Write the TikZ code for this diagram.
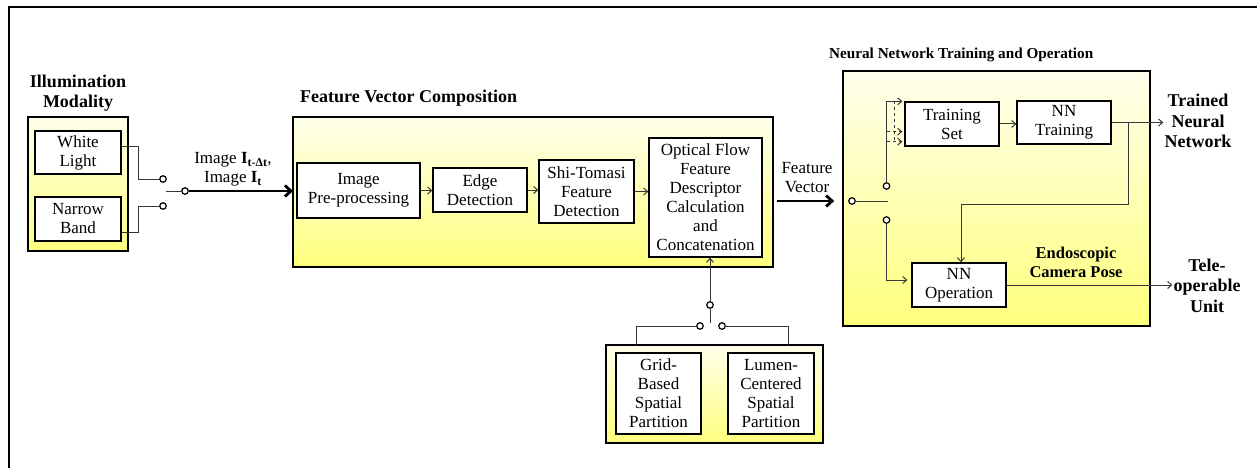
\documentclass[tikz,border=0pt]{standalone}
\usepackage{fontspec}
\setmainfont{Liberation Serif}
\usetikzlibrary{arrows.meta,calc}
\definecolor{ytop}{RGB}{255,255,236}
\definecolor{ybot}{RGB}{255,255,125}
\definecolor{wirec}{RGB}{55,55,55}
\newcommand{\bodyf}{\fontsize{17}{19}\selectfont}
\newcommand{\ttlf}{\bfseries\fontsize{18}{20.5}\selectfont}
\begin{document}
\begin{tikzpicture}[x=1pt,y=-1pt,
  group/.style={draw=black, line width=1.8pt, top color=ytop, bottom color=ybot, inner sep=0pt, outer sep=0pt, anchor=north west},
  blk/.style={draw=black, line width=1.3pt, fill=white, align=center, inner sep=0pt, font=\bodyf},
  contact/.style={circle, draw=black, line width=1.2pt, fill=white, inner sep=0pt, minimum size=6.5pt},
  wire/.style={draw=wirec, line width=1pt},
  arr/.style={wire, -{Straight Barb[length=4pt,width=7pt]}},
  thickarr/.style={line width=2.8pt, -{Straight Barb[length=6pt,width=11pt]}},
  ttl/.style={font=\ttlf, align=center, inner sep=1pt},
  lbl/.style={font=\bodyf, align=center, inner sep=0pt},
]
\useasboundingbox (0,0) rectangle (1257,468);
% frame
\draw[line width=2.5pt] (9,468) -- (9,7) -- (1257,7);

% ---- Illumination modality
\node[group, minimum width=100pt, minimum height=134pt] (illum) at (28,117) {};
\node[ttl] (illumT) at (78,93) {Illumination\\Modality};
\node[blk, minimum width=86pt, minimum height=43pt] (wl) at (78,152.5) {White\\Light};
\node[blk, minimum width=86pt, minimum height=44pt] (nb) at (78,219) {Narrow\\Band};
\node[contact] (c1) at (163,179) {};
\node[contact] (c2) at (163,206) {};
\node[contact] (cin) at (185,191) {};
\draw[wire] ([yshift=6.5pt]wl.east) -- ++(17,0) |- (c1.west);
\draw[wire] ([yshift=-13pt]nb.east) -- ++(17,0) |- (c2.west);
\draw[wire] (cin.west) -- ++(-15,0);
\node[lbl] (imglbl) at (233,169.5) {Image \textbf{I}\textsubscript{\textbf{t-Δt}},\\Image \textbf{I}\textsubscript{\textbf{t}}};

% ---- Feature vector composition
\node[group, minimum width=480pt, minimum height=150pt] (fvc) at (293,117) {};
\node[ttl, anchor=west] (fvcT) at (299,98) {Feature Vector Composition};
\draw[thickarr] (cin.east) -- (cin.east -| fvc.west);
\node[blk, minimum width=123pt, minimum height=55pt] (pre) at (358.5,190.5) {Image\\Pre-processing};
\node[blk, minimum width=94pt, minimum height=44pt] (edge) at (480,190) {Edge\\Detection};
\node[blk, minimum width=95pt, minimum height=63pt] (shi) at (586.5,191.5) {Shi-Tomasi\\Feature\\Detection};
\node[blk, minimum width=113pt, minimum height=119pt] (of) at (705.5,197.5) {Optical Flow\\Feature\\Descriptor\\Calculation\\and\\Concatenation};
\draw[arr] (pre.east) -- (pre.east -| edge.west);
\draw[arr] (edge.east) -- (edge.east -| shi.west);
\draw[arr] (shi.east) -- (shi.east -| of.west);

% ---- Spatial partition
\node[group, minimum width=217pt, minimum height=98pt] (bot) at (606,345) {};
\node[blk, minimum width=85pt, minimum height=81pt] (grid) at (658.5,393.5) {Grid-\\Based\\Spatial\\Partition};
\node[blk, minimum width=86pt, minimum height=81pt] (lumen) at (771,393.5) {Lumen-\\Centered\\Spatial\\Partition};
\node[contact] (ctop) at (710,305) {};
\node[contact] (cl) at (700,326) {};
\node[contact] (cr) at (722,326) {};
\draw[arr] (ctop.north) -- (ctop.north |- of.south);
\draw[wire] (ctop.south) -- ++(0,14);
\draw[wire] (cl.west) -| ([xshift=30pt]bot.north west);
\draw[wire] (cr.east) -| ([xshift=-35pt]bot.north east);

% ---- Neural network
\node[group, minimum width=307pt, minimum height=255pt] (nn) at (843,71) {};
\node[ttl, font=\bfseries\fontsize{15.2}{17}\selectfont, anchor=west] (nnT) at (828,55) {Neural Network Training and Operation};

% ---- Feature vector arrow
\node[lbl] (fvlbl) at (807,177.5) {Feature\\Vector};
\node[contact] (cnn) at (852,201) {};
\draw[thickarr] ([xshift=4pt]fvc.east |- cnn) -- ([xshift=-14pt]cnn.west);

\node[blk, minimum width=94pt, minimum height=44pt] (ts) at (952,124) {Training\\Set};
\node[blk, minimum width=94pt, minimum height=43pt] (nnt) at (1064,122.5) {NN\\Training};
\node[blk, minimum width=94pt, minimum height=44pt] (nno) at (959,285) {NN\\Operation};
\node[contact] (cu) at (886.5,186) {};
\node[contact] (cd) at (886.5,220) {};
\draw[wire] (cnn.east) -- ++(32,0);
\draw[arr] (cu.north) |- ([xshift=-2pt]ts.north west);
\draw[wire, dashed] ([xshift=-10pt]ts.north west) -- ([xshift=-10pt,yshift=5pt]ts.south west);
\draw[arr, dashed] ([xshift=-17pt,yshift=15pt]ts.south west) -- ([xshift=-2pt,yshift=15pt]ts.south west);
\draw[arr, dashed] ([xshift=-17pt,yshift=5pt]ts.south west) -- ([xshift=-2pt,yshift=5pt]ts.south west);
\draw[arr] (ts.east) -- (ts.east -| nnt.west);
\draw[arr] (cd.south) |- ([xshift=-4pt,yshift=5pt]nno.west);
\node[ttl] (trained) at (1198,121) {Trained\\Neural\\Network};
\draw[arr] (nnt.east) -- (nnt.east -| trained.west);
\draw[arr] ([xshift=17pt]nnt.east) -- ++(0,82) -| ([xshift=2pt]nno.north);
\node[ttl, font=\bfseries\fontsize{16.5}{19}\selectfont] (endo) at (1076,262.5) {Endoscopic\\Camera Pose};
\node[ttl] (tele) at (1207,285.5) {Tele-\\operable\\Unit};
\draw[arr] (nno.east) -- (nno.east -| tele.west);
\end{tikzpicture}
\end{document}
